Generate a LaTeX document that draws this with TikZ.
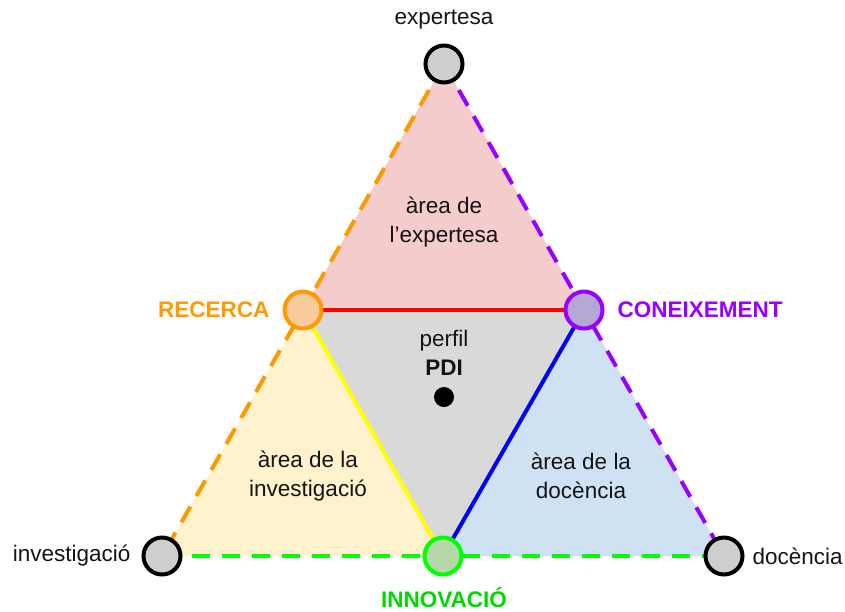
\documentclass[tikz,border=0pt]{standalone}
\usepackage{fontspec}
\setmainfont{Liberation Sans}
\definecolor{pinkfill}{HTML}{F4CCCC}
\definecolor{grayfill}{HTML}{D9D9D9}
\definecolor{orangefill}{HTML}{FFF2CC}
\definecolor{bluefill}{HTML}{CFE2F3}
\definecolor{orangeline}{HTML}{FF9900}
\definecolor{purpleline}{HTML}{9900FF}
\definecolor{greenline}{HTML}{00FF00}
\definecolor{orangenode}{HTML}{F9CB9C}
\definecolor{purplenode}{HTML}{B4A7D6}
\definecolor{greennode}{HTML}{B6D7A8}
\definecolor{blueline}{HTML}{0000FF}
\definecolor{yellowline}{HTML}{FFFF00}
\definecolor{redline}{HTML}{FF0000}
\begin{document}
\begin{tikzpicture}[x=1pt,y=-1pt,
  txt/.style={font=\fontsize{22.5}{29}\selectfont, align=center, text=black!92},
  lbl/.style={font=\fontsize{22.5}{29}\selectfont\bfseries},
  vtx/.style={circle, minimum size=37pt, inner sep=0pt, line width=4pt},
  dline/.style={line width=4pt, dash pattern=on 18pt off 12pt},
  sline/.style={line width=4pt}]
\useasboundingbox (0,0) rectangle (845,611);
\coordinate (T) at (444,64);
\coordinate (L) at (162,556);
\coordinate (B) at (724,556);
\coordinate (R) at (303,310);
\coordinate (C) at (584,310);
\coordinate (I) at (443,556);
% fills
\fill[pinkfill] (T) -- (R) -- (C) -- cycle;
\fill[grayfill] (R) -- (C) -- (I) -- cycle;
\fill[orangefill] (R) -- (L) -- (I) -- cycle;
\fill[bluefill] (C) -- (I) -- (B) -- cycle;
% dashed outer edges
\draw[dline, orangeline] (T) -- (L);
\draw[dline, purpleline] (T) -- (B);
\draw[dline, greenline] (L) -- (B);
% inner solid edges
\draw[sline, redline] (R) -- (C);
\draw[sline, yellowline] (R) -- (I);
\draw[sline, blueline] (C) -- (I);
% vertex nodes
\node[vtx, draw=black, fill=grayfill!95!black] (nT) at (T) {};
\node[vtx, draw=black, fill=grayfill!95!black] (nL) at (L) {};
\node[vtx, draw=black, fill=grayfill!95!black] (nB) at (B) {};
\node[vtx, draw=orangeline, fill=orangenode] (nR) at (R) {};
\node[vtx, draw=purpleline, fill=purplenode] (nC) at (C) {};
\node[vtx, draw=greenline, fill=greennode] (nI) at (I) {};
% labels
\node[txt] (tT) at (444,20) {expertesa};
\node[txt, anchor=east] (tL) at (134,556) {investigació};
\node[txt, anchor=west] (tB) at (749,556) {docència};
\node[lbl, text=orangeline, anchor=east] (tR) at (273,310) {RECERCA};
\node[lbl, text=purpleline, anchor=west] (tC) at (614,310) {CONEIXEMENT};
\node[lbl, text=greenline!85!black] (tI) at (444,598) {INNOVACIÓ};
\node[txt] (aT) at (444,222) {àrea de\\l’expertesa};
\node[txt] (aP) at (444,353) {perfil\\\textbf{PDI}};
\fill[black] (444,397) circle (10pt);
\node[txt] (aL) at (308,476) {àrea de la\\investigació};
\node[txt] (aB) at (581,476) {àrea de la\\docència};
\end{tikzpicture}
\end{document}
